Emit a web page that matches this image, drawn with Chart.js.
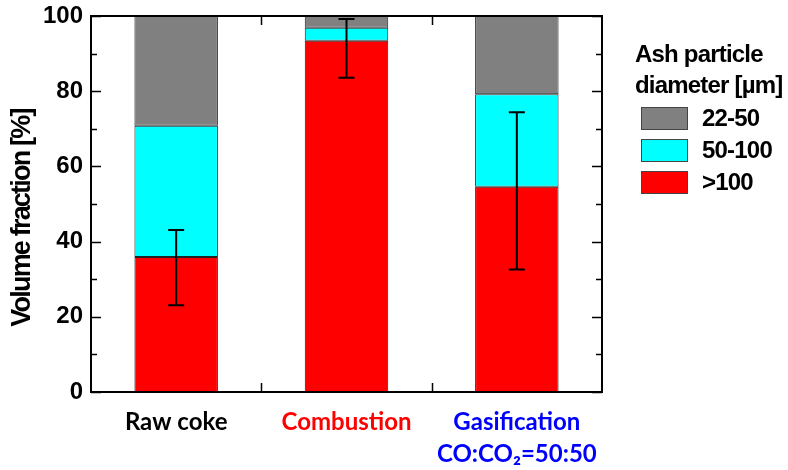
<!DOCTYPE html>
<html>
<head>
<meta charset="utf-8">
<script src="https://cdn.jsdelivr.net/npm/chart.js@4"></script>
<style>
html,body{margin:0;padding:0;background:#fff;}
#wrap{width:788px;height:470px;position:relative;}
</style>
</head>
<body>
<div id="wrap"><canvas id="c" width="788" height="470"></canvas></div>
<script>
// ---- data ----
const categories = ["Raw coke", "Combustion", ["Gasification", "CO:CO\u2082=50:50"]];
const categoryColors = ["#000000", "#ff0000", "#0000ff"];
const seriesLabels = [">100", "50-100", "22-50"];
const over100 = [35.9, 93.4, 54.6];
const from50to100 = [34.9, 3.5, 24.6];
const from22to50 = [29.2, 3.1, 20.8];
const errLow = [23.1, 83.6, 32.6];
const errHigh = [43.1, 99.2, 74.4];
const yTicks = [0, 20, 40, 60, 80, 100];
const yMinorTicks = [10, 30, 50, 70, 90];
const legendTitle = ["Ash particle", "diameter [\u00b5m]"];
const yTitle = "Volume fraction [%]";

const colors = ["#ff0000", "#00ffff", "#808080"];
const ARIAL = '"Liberation Sans", Arial, sans-serif';

const framePlugin = {
  id: 'frame',
  afterDatasetsDraw(chart) {
    const ctx = chart.ctx, a = chart.chartArea;
    const x = chart.scales.x, y = chart.scales.y;
    ctx.save();
    // error bars on >100 series
    const meta = chart.getDatasetMeta(0);
    ctx.strokeStyle = '#000';
    ctx.lineWidth = 2;
    meta.data.forEach((bar, i) => {
      const cx = bar.x;
      const yl = y.getPixelForValue(errLow[i]);
      const yh = y.getPixelForValue(errHigh[i]);
      ctx.beginPath();
      ctx.moveTo(cx, yl); ctx.lineTo(cx, yh);
      ctx.moveTo(cx - 8, yl); ctx.lineTo(cx + 8, yl);
      ctx.moveTo(cx - 8, yh); ctx.lineTo(cx + 8, yh);
      ctx.stroke();
    });
    // frame
    ctx.lineWidth = 2;
    ctx.strokeRect(a.left, a.top, a.right - a.left, a.bottom - a.top);
    ctx.lineWidth = 1.5;
    ctx.beginPath();
    yTicks.forEach(v => {
      const py = Math.round(y.getPixelForValue(v)) + 0.5;
      ctx.moveTo(a.left, py); ctx.lineTo(a.left + 10, py);
      ctx.moveTo(a.right, py); ctx.lineTo(a.right - 10, py);
    });
    yMinorTicks.forEach(v => {
      const py = Math.round(y.getPixelForValue(v)) + 0.5;
      ctx.moveTo(a.left, py); ctx.lineTo(a.left + 6, py);
      ctx.moveTo(a.right, py); ctx.lineTo(a.right - 6, py);
    });
    // category boundary ticks
    for (let i = 0; i < categories.length - 1; i++) {
      const px = Math.round((x.getPixelForValue(i) + x.getPixelForValue(i + 1)) / 2) + 0.5;
      ctx.moveTo(px, a.bottom); ctx.lineTo(px, a.bottom - 9);
      ctx.moveTo(px, a.top); ctx.lineTo(px, a.top + 9);
    }
    ctx.stroke();
    ctx.restore();
  },
  afterDraw(chart) {
    const ctx = chart.ctx, a = chart.chartArea;
    ctx.save();
    // y-axis title (condensed bold)
    ctx.fillStyle = '#000';
    ctx.letterSpacing = '-1.8px';
    ctx.font = 'bold 27px ' + ARIAL;
    ctx.translate(23, (a.top + a.bottom) / 2 + 14);
    ctx.rotate(-Math.PI / 2);
    ctx.textAlign = 'center';
    ctx.textBaseline = 'middle';
    ctx.fillText(yTitle, 0, 0);
    ctx.restore();

    ctx.save();
    ctx.letterSpacing = '-0.8px';
    ctx.fillStyle = '#000';
    ctx.font = 'bold 24px ' + ARIAL;
    ctx.textBaseline = 'alphabetic';
    ctx.textAlign = 'left';
    ctx.fillText(legendTitle[0], 635, 62);
    ctx.fillText(legendTitle[1], 635, 93);
    const ds = chart.data.datasets;
    const order = [2, 1, 0];
    order.forEach((di, k) => {
      const top = 107 + k * 32;
      ctx.fillStyle = ds[di].backgroundColor;
      ctx.fillRect(641, top, 46, 22);
      ctx.strokeStyle = '#444';
      ctx.lineWidth = 1;
      ctx.strokeRect(641.5, top + 0.5, 46, 22);
      ctx.fillStyle = '#000';
      ctx.textBaseline = 'middle';
      ctx.fillText(ds[di].label, 702, top + 12);
    });
    ctx.restore();
  }
};

new Chart(document.getElementById('c'), {
  type: 'bar',
  data: {
    labels: categories,
    datasets: [
      { label: seriesLabels[0], data: over100, backgroundColor: colors[0] },
      { label: seriesLabels[1], data: from50to100, backgroundColor: colors[1] },
      { label: seriesLabels[2], data: from22to50, backgroundColor: colors[2] }
    ].map(d => Object.assign(d, {
      borderColor: '#222', borderWidth: 1, borderSkipped: false,
      categoryPercentage: 1, barPercentage: 0.49
    }))
  },
  options: {
    responsive: false,
    animation: false,
    devicePixelRatio: 1,
    layout: { padding: { top: 16, right: 186, left: 0, bottom: 0 } },
    plugins: { legend: { display: false }, tooltip: { enabled: false } },
    scales: {
      x: {
        stacked: true,
        grid: { display: false, drawTicks: false },
        border: { display: false },
        ticks: {
          color: categoryColors,
          padding: 15,
          maxRotation: 0,
          autoSkip: false,
          font: { family: 'Lato, "Open Sans", sans-serif', weight: 'bold', size: 24, lineHeight: 1.3 }
        },
        afterFit(s) { s.height = 78; s.paddingLeft = 0; s.paddingRight = 0; }
      },
      y: {
        stacked: true,
        min: 0, max: 100,
        grid: { display: false, drawTicks: false },
        border: { display: false },
        afterBuildTicks(s) { s.ticks = yTicks.map(v => ({ value: v })); },
        ticks: {
          color: '#000',
          padding: 8,
          font: { family: ARIAL, weight: 'bold', size: 24 }
        },
        afterFit(s) { s.width = 91; s.paddingTop = 0; s.paddingBottom = 0; }
      }
    }
  },
  plugins: [framePlugin]
});
</script>
</body>
</html>
